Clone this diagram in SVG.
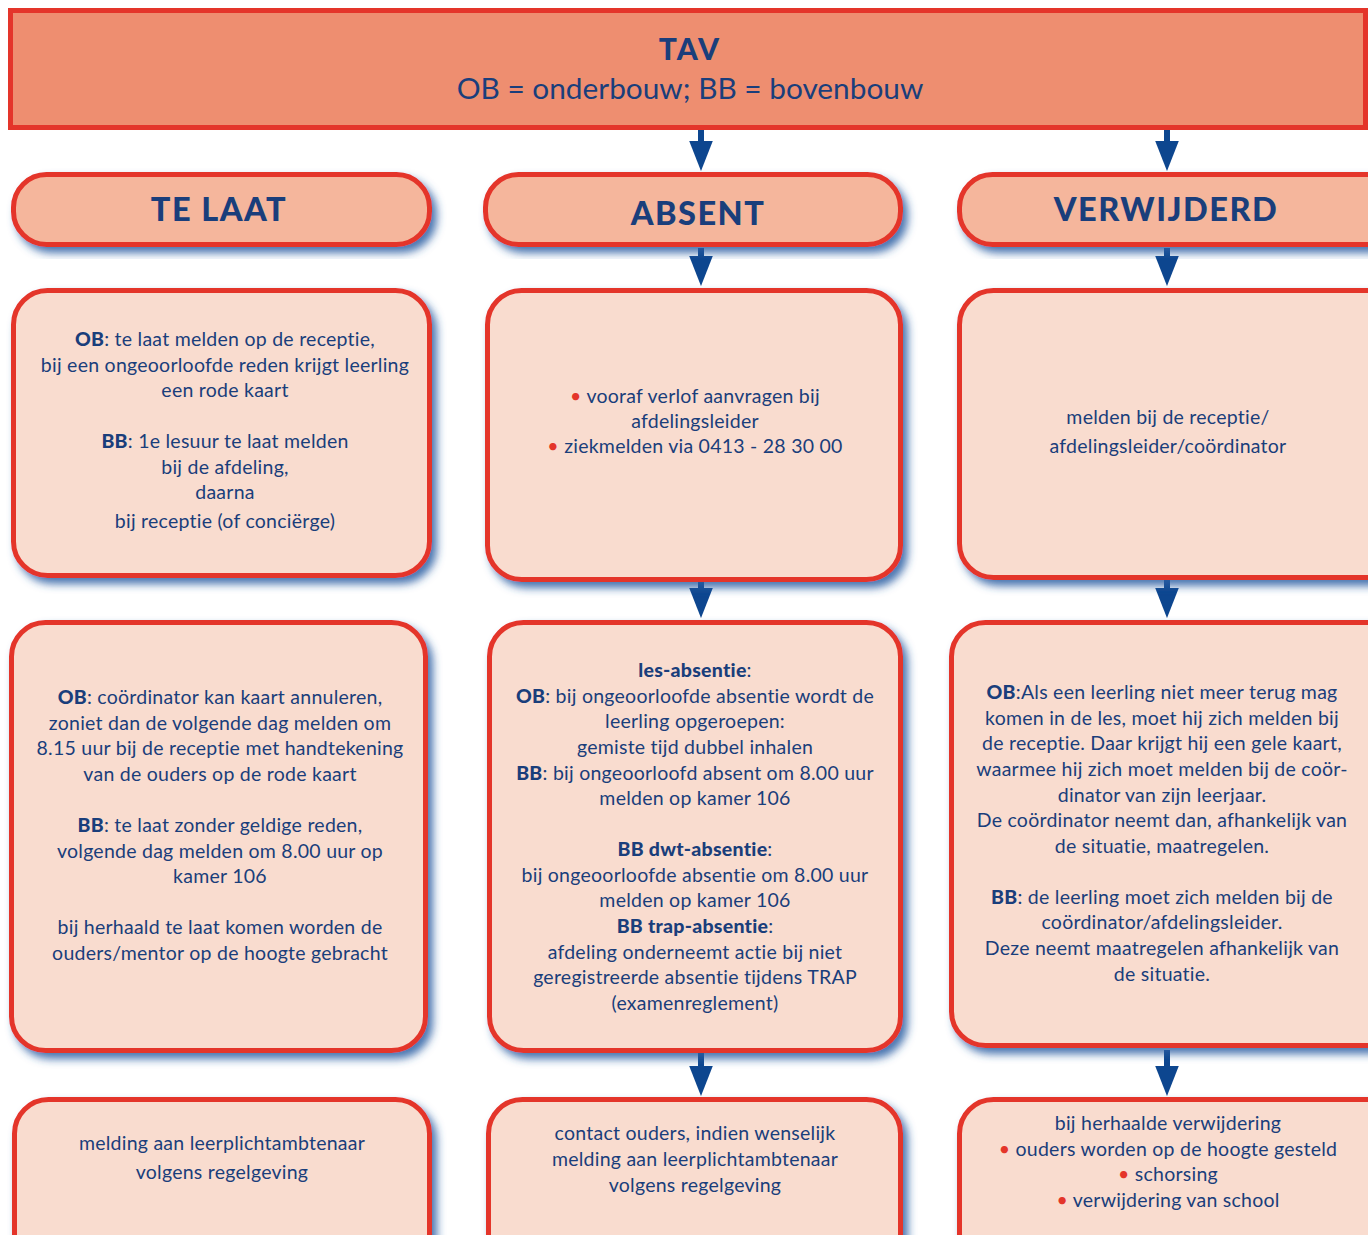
<svg xmlns="http://www.w3.org/2000/svg" width="1368" height="1235" viewBox="0 0 1368 1235">
<defs>
<filter id="sh" x="-10%" y="-10%" width="125%" height="130%">
<feDropShadow dx="5" dy="6" stdDeviation="4" flood-color="#2C5DA3" flood-opacity="0.85"/>
</filter>
<marker id="ah" markerUnits="userSpaceOnUse" markerWidth="30" markerHeight="24" viewBox="0 0 28 22" refX="13" refY="11" orient="auto">
<path d="M0,0 L28,11 L0,22 z" fill="#0D468F"/>
</marker>
</defs>
<style>
.hdr{fill:#EE8E70;stroke:#E4352A;stroke-width:5}
.pill{fill:#F5B69C;stroke:#E4352A;stroke-width:5;filter:url(#sh)}
.box{fill:#F9DCCF;stroke:#E4352A;stroke-width:5;filter:url(#sh)}
text{font-family:Lato,"Liberation Sans",sans-serif;fill:#1A3E7B;text-anchor:middle}
.t{font-size:19.5px;letter-spacing:0.25px}
.title{font-size:32.5px;font-weight:900;letter-spacing:1.5px}
.b{font-weight:900}
.r{fill:#E4352A}
.arr{stroke:#0D468F;stroke-width:6;fill:none;marker-end:url(#ah)}
</style>
<rect width="1368" height="1235" fill="#FFFFFF"/>

<g id="header">
<rect class="hdr" x="10.5" y="10.5" width="1355" height="117"/>
<text x="690" y="60" style="font-size:30px;font-weight:900;letter-spacing:2px">TAV</text>
<text x="690" y="99" style="font-size:29.8px">OB = onderbouw; BB = bovenbouw</text>
</g>

<g id="connectors">
<line class="arr" x1="701" y1="130" x2="701" y2="155"/>
<line class="arr" x1="1167" y1="130" x2="1167" y2="155"/>
<line class="arr" x1="701" y1="248" x2="701" y2="270"/>
<line class="arr" x1="1167" y1="248" x2="1167" y2="270"/>
<line class="arr" x1="701" y1="580" x2="701" y2="602"/>
<line class="arr" x1="1167" y1="580" x2="1167" y2="602"/>
<line class="arr" x1="701" y1="1053" x2="701" y2="1080"/>
<line class="arr" x1="1167" y1="1050" x2="1167" y2="1080"/>
</g>

<g id="te-laat">
<rect class="pill" x="13.5" y="174.5" width="416" height="70" rx="33"/>
<text class="title" x="219" y="221">TE LAAT</text>
</g>
<g id="absent">
<rect class="pill" x="485.5" y="174.5" width="415" height="70" rx="33"/>
<text class="title" x="698" y="225">ABSENT</text>
</g>
<g id="verwijderd">
<rect class="pill" x="959.5" y="174.5" width="450" height="70" rx="33"/>
<text class="title" x="1166" y="221">VERWIJDERD</text>
</g>

<g id="te-laat-melden">
<rect class="box" x="13.5" y="290.5" width="416" height="285" rx="34"/>
<text class="t" x="225" y="346"><tspan class="b">OB</tspan>: te laat melden op de receptie,</text>
<text class="t" x="225" y="372">bij een ongeoorloofde reden krijgt leerling</text>
<text class="t" x="225" y="397">een rode kaart</text>
<text class="t" x="225" y="448"><tspan class="b">BB</tspan>: 1e lesuur te laat melden</text>
<text class="t" x="225" y="474">bij de afdeling,</text>
<text class="t" x="225" y="499">daarna</text>
<text class="t" x="225" y="528">bij receptie (of conciërge)</text>
</g>

<g id="absent-melden">
<rect class="box" x="487.5" y="290.5" width="413" height="289" rx="34"/>
<text class="t" x="695" y="403"><tspan class="r">•</tspan> vooraf verlof aanvragen bij</text>
<text class="t" x="695" y="428">afdelingsleider</text>
<text class="t" x="695" y="453"><tspan class="r">•</tspan> ziekmelden via 0413 - 28 30 00</text>
</g>

<g id="verwijderd-melden">
<rect class="box" x="959.5" y="290.5" width="450" height="287" rx="34"/>
<text class="t" x="1168" y="424">melden bij de receptie/</text>
<text class="t" x="1168" y="453">afdelingsleider/coördinator</text>
</g>

<g id="te-laat-gevolg">
<rect class="box" x="11.5" y="622.5" width="414" height="428" rx="34"/>
<text class="t" x="220" y="704"><tspan class="b">OB</tspan>: coördinator kan kaart annuleren,</text>
<text class="t" x="220" y="730">zoniet dan de volgende dag melden om</text>
<text class="t" x="220" y="755">8.15 uur bij de receptie met handtekening</text>
<text class="t" x="220" y="781">van de ouders op de rode kaart</text>
<text class="t" x="220" y="832"><tspan class="b">BB</tspan>: te laat zonder geldige reden,</text>
<text class="t" x="220" y="858">volgende dag melden om 8.00 uur op</text>
<text class="t" x="220" y="883">kamer 106</text>
<text class="t" x="220" y="934">bij herhaald te laat komen worden de</text>
<text class="t" x="220" y="960">ouders/mentor op de hoogte gebracht</text>
</g>

<g id="absent-gevolg">
<rect class="box" x="489.5" y="622.5" width="411" height="428" rx="34"/>
<text class="t" x="695" y="677"><tspan class="b">les-absentie</tspan>:</text>
<text class="t" x="695" y="703"><tspan class="b">OB</tspan>: bij ongeoorloofde absentie wordt de</text>
<text class="t" x="695" y="728">leerling opgeroepen:</text>
<text class="t" x="695" y="754">gemiste tijd dubbel inhalen</text>
<text class="t" x="695" y="780"><tspan class="b">BB</tspan>: bij ongeoorloofd absent om 8.00 uur</text>
<text class="t" x="695" y="805">melden op kamer 106</text>
<text class="t" x="695" y="856"><tspan class="b">BB dwt-absentie</tspan>:</text>
<text class="t" x="695" y="882">bij ongeoorloofde absentie om 8.00 uur</text>
<text class="t" x="695" y="907">melden op kamer 106</text>
<text class="t" x="695" y="933"><tspan class="b">BB trap-absentie</tspan>:</text>
<text class="t" x="695" y="959">afdeling onderneemt actie bij niet</text>
<text class="t" x="695" y="984">geregistreerde absentie tijdens TRAP</text>
<text class="t" x="695" y="1010">(examenreglement)</text>
</g>

<g id="verwijderd-gevolg">
<rect class="box" x="951.5" y="622.5" width="460" height="423" rx="34"/>
<text class="t" x="1162" y="699"><tspan class="b">OB</tspan>:Als een leerling niet meer terug mag</text>
<text class="t" x="1162" y="725">komen in de les, moet hij zich melden bij</text>
<text class="t" x="1162" y="750">de receptie. Daar krijgt hij een gele kaart,</text>
<text class="t" x="1162" y="776">waarmee hij zich moet melden bij de coör-</text>
<text class="t" x="1162" y="802">dinator van zijn leerjaar.</text>
<text class="t" x="1162" y="827">De coördinator neemt dan, afhankelijk van</text>
<text class="t" x="1162" y="853">de situatie, maatregelen.</text>
<text class="t" x="1162" y="904"><tspan class="b">BB</tspan>:  de leerling moet zich melden bij de</text>
<text class="t" x="1162" y="929">coördinator/afdelingsleider.</text>
<text class="t" x="1162" y="955">Deze neemt maatregelen afhankelijk van</text>
<text class="t" x="1162" y="981">de situatie.</text>
</g>

<g id="te-laat-eind">
<rect class="box" x="14.5" y="1099.5" width="415" height="200" rx="34"/>
<text class="t" x="222" y="1150">melding aan leerplichtambtenaar</text>
<text class="t" x="222" y="1179">volgens regelgeving</text>
</g>

<g id="absent-eind">
<rect class="box" x="488.5" y="1099.5" width="412" height="200" rx="34"/>
<text class="t" x="695" y="1140">contact ouders, indien wenselijk</text>
<text class="t" x="695" y="1166">melding aan leerplichtambtenaar</text>
<text class="t" x="695" y="1192">volgens regelgeving</text>
</g>

<g id="verwijderd-eind">
<rect class="box" x="959.5" y="1099.5" width="450" height="200" rx="34"/>
<text class="t" x="1168" y="1130">bij herhaalde verwijdering</text>
<text class="t" x="1168" y="1156"><tspan class="r">•</tspan> ouders worden op de hoogte gesteld</text>
<text class="t" x="1168" y="1181"><tspan class="r">•</tspan> schorsing</text>
<text class="t" x="1168" y="1207"><tspan class="r">•</tspan> verwijdering van school</text>
</g>
</svg>
